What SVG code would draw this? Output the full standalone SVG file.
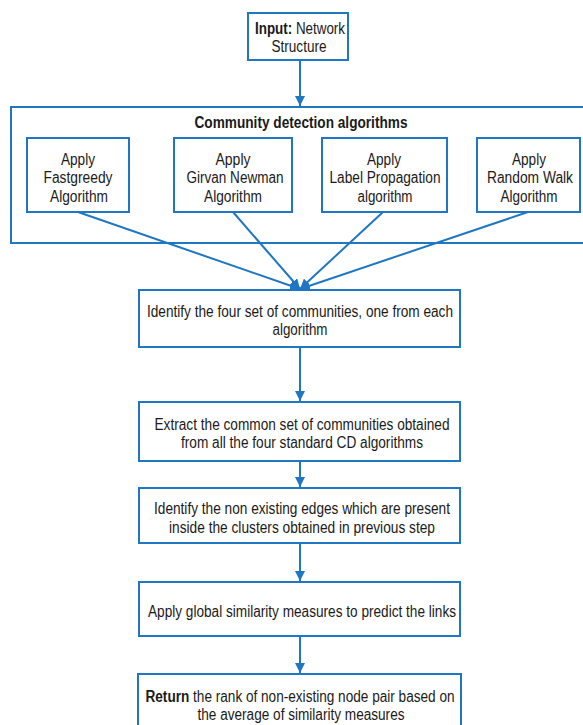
<svg xmlns="http://www.w3.org/2000/svg" width="583" height="725" viewBox="0 0 583 725">
<defs>
<style>
.box{fill:#fff;stroke:#1f76c2;stroke-width:2}
.frame{fill:none;stroke:#1f76c2;stroke-width:2}
.t{font-family:"Liberation Sans",Arial,sans-serif;font-size:16px;fill:#1a1a1a;text-anchor:middle}
.b{font-weight:bold}
.c{stroke:#1f76c2;stroke-width:2;fill:none}
</style>
<marker id="ah" viewBox="0 0 10 10" refX="10" refY="5" markerWidth="5" markerHeight="5" orient="auto" markerUnits="strokeWidth">
<path d="M0,0 L10,5 L0,10 z" fill="#1f76c2"/>
</marker>
</defs>
<rect width="583" height="725" fill="#fff"/>
<g id="cd-group">
<rect class="frame" x="11" y="107" width="580" height="136"/>
<text class="t b" x="301" y="128" textLength="213" lengthAdjust="spacingAndGlyphs">Community detection algorithms</text>
</g>
<g id="input">
<rect class="box" x="248" y="13" width="100" height="47"/>
<text class="t" x="300" y="34" textLength="90" lengthAdjust="spacingAndGlyphs"><tspan class="b">Input:</tspan> Network</text>
<text class="t" x="299" y="52" textLength="55" lengthAdjust="spacingAndGlyphs">Structure</text>
</g>
<g id="fastgreedy">
<rect class="box" x="27" y="138" width="102" height="74"/>
<text class="t" x="78" y="165" textLength="34" lengthAdjust="spacingAndGlyphs">Apply</text>
<text class="t" x="78" y="183" textLength="69" lengthAdjust="spacingAndGlyphs">Fastgreedy</text>
<text class="t" x="79" y="202" textLength="58" lengthAdjust="spacingAndGlyphs">Algorithm</text>
</g>
<g id="girvan">
<rect class="box" x="174" y="138" width="118" height="74"/>
<text class="t" x="233" y="165" textLength="35" lengthAdjust="spacingAndGlyphs">Apply</text>
<text class="t" x="235" y="183" textLength="97" lengthAdjust="spacingAndGlyphs">Girvan Newman</text>
<text class="t" x="233" y="202" textLength="58" lengthAdjust="spacingAndGlyphs">Algorithm</text>
</g>
<g id="labelprop">
<rect class="box" x="322" y="138" width="125" height="74"/>
<text class="t" x="384" y="165" textLength="34" lengthAdjust="spacingAndGlyphs">Apply</text>
<text class="t" x="385" y="183" textLength="111" lengthAdjust="spacingAndGlyphs">Label Propagation</text>
<text class="t" x="385" y="202" textLength="55" lengthAdjust="spacingAndGlyphs">algorithm</text>
</g>
<g id="randomwalk">
<rect class="box" x="477" y="138" width="103" height="74"/>
<text class="t" x="529" y="165" textLength="34" lengthAdjust="spacingAndGlyphs">Apply</text>
<text class="t" x="530" y="183" textLength="86" lengthAdjust="spacingAndGlyphs">Random Walk</text>
<text class="t" x="529" y="202" textLength="57" lengthAdjust="spacingAndGlyphs">Algorithm</text>
</g>
<g id="identify">
<rect class="box" x="139" y="290" width="321" height="57"/>
<text class="t" x="300" y="317" textLength="306" lengthAdjust="spacingAndGlyphs">Identify the four set of communities, one from each</text>
<text class="t" x="300" y="335" textLength="55" lengthAdjust="spacingAndGlyphs">algorithm</text>
</g>
<g id="extract">
<rect class="box" x="139" y="402" width="321" height="59"/>
<text class="t" x="302" y="430" textLength="295" lengthAdjust="spacingAndGlyphs">Extract the common set of communities obtained</text>
<text class="t" x="302" y="448" textLength="242" lengthAdjust="spacingAndGlyphs">from all the four standard CD algorithms</text>
</g>
<g id="nonexisting">
<rect class="box" x="139" y="488" width="321" height="55"/>
<text class="t" x="302" y="514" textLength="296" lengthAdjust="spacingAndGlyphs">Identify the non existing edges which are present</text>
<text class="t" x="302" y="533" textLength="266" lengthAdjust="spacingAndGlyphs">inside the clusters obtained in previous step</text>
</g>
<g id="global">
<rect class="box" x="139" y="582" width="321" height="54"/>
<text class="t" x="302" y="617" textLength="308" lengthAdjust="spacingAndGlyphs">Apply global similarity measures to predict the links</text>
</g>
<g id="return">
<rect class="box" x="138" y="674" width="323" height="60"/>
<text class="t" x="300" y="702" textLength="309" lengthAdjust="spacingAndGlyphs"><tspan class="b">Return</tspan> the rank of non-existing node pair based on</text>
<text class="t" x="301" y="720" textLength="207" lengthAdjust="spacingAndGlyphs">the average of similarity measures</text>
</g>
<g id="connectors">
<line class="c" x1="300" y1="60" x2="300" y2="106" marker-end="url(#ah)"/>
<line class="c" x1="78" y1="212" x2="300" y2="289" marker-end="url(#ah)"/>
<line class="c" x1="233" y1="212" x2="300" y2="289" marker-end="url(#ah)"/>
<line class="c" x1="383" y1="212" x2="300" y2="289" marker-end="url(#ah)"/>
<line class="c" x1="528" y1="212" x2="300" y2="289" marker-end="url(#ah)"/>
<line class="c" x1="300" y1="347" x2="300" y2="401" marker-end="url(#ah)"/>
<line class="c" x1="300" y1="461" x2="300" y2="487" marker-end="url(#ah)"/>
<line class="c" x1="300" y1="543" x2="300" y2="581" marker-end="url(#ah)"/>
<line class="c" x1="300" y1="636" x2="300" y2="673" marker-end="url(#ah)"/>
</g>
</svg>
